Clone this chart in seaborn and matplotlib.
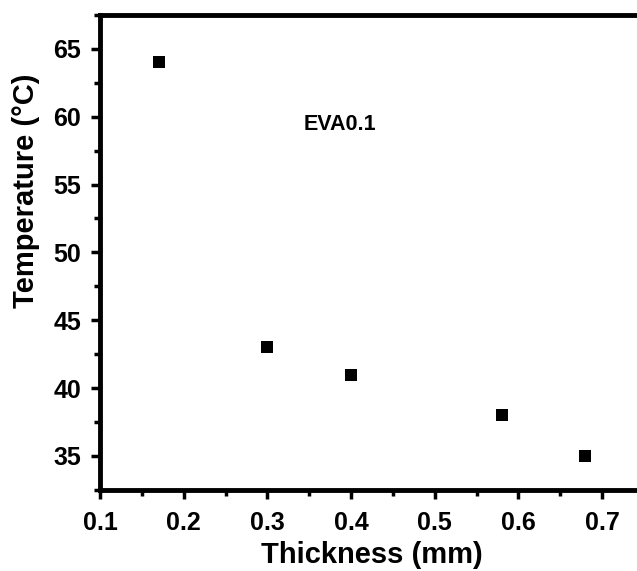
import numpy as np
import pandas as pd
import seaborn as sb
import matplotlib.pyplot as plt
from matplotlib.ticker import MultipleLocator

# podaci ocitani sa slike
thickness = [0.17, 0.30, 0.40, 0.58, 0.68]
temperature = [64, 43, 41, 38, 35]
xticks = [0.1, 0.2, 0.3, 0.4, 0.5, 0.6, 0.7]
yticks = [35, 40, 45, 50, 55, 60, 65]

df = pd.DataFrame({'Thickness': thickness, 'Temperature': temperature})

sb.set_style("ticks")
plt.rcParams['font.family'] = ['Liberation Sans', 'DejaVu Sans']
plt.rcParams['font.weight'] = 'bold'
plt.rcParams['text.color'] = 'black'
plt.rcParams['axes.labelcolor'] = 'black'
plt.rcParams['axes.edgecolor'] = 'black'
plt.rcParams['xtick.color'] = 'black'
plt.rcParams['ytick.color'] = 'black'

fig = plt.figure(figsize=(6.37, 5.71), dpi=100)
# desni rub osi je odrezan kao na originalu
ax = fig.add_axes([0.157, 0.142, 0.854, 0.832])

sb.scatterplot(data=df, x='Thickness', y='Temperature', marker='s', s=80,
               color='black', edgecolor='black', linewidth=0, ax=ax)

ax.set_xlim(0.1, 0.75)
ax.set_ylim(32.5, 67.5)
ax.set_xticks(xticks)
ax.set_yticks(yticks)
ax.set_xticklabels(['{:.1f}'.format(v) for v in xticks])
ax.set_yticklabels([str(v) for v in yticks])
ax.xaxis.set_minor_locator(MultipleLocator(0.05))
ax.yaxis.set_minor_locator(MultipleLocator(2.5))

for s in ax.spines.values():
    s.set_linewidth(3.5)
ax.tick_params(which='major', direction='out', length=6.5, width=2.5, labelsize=18, pad=7)
ax.tick_params(axis='x', which='major', pad=9)
ax.tick_params(which='minor', direction='out', length=4, width=2.5)
ax.tick_params(top=False, right=False, which='both')
for lab in ax.get_xticklabels() + ax.get_yticklabels():
    lab.set_fontweight('bold')

ax.set_xlabel('Thickness (mm)', fontsize=21, fontweight='bold')
ax.set_ylabel('Temperature (°C)', fontsize=21, fontweight='bold')
ax.yaxis.set_label_coords(-0.11, 0.63)
ax.xaxis.set_label_coords(0.5, -0.108)

ax.text(0.387, 59.4, 'EVA0.1', fontsize=15.5, fontweight='bold', ha='center', va='center')

fig.savefig('out.png', dpi=100)
